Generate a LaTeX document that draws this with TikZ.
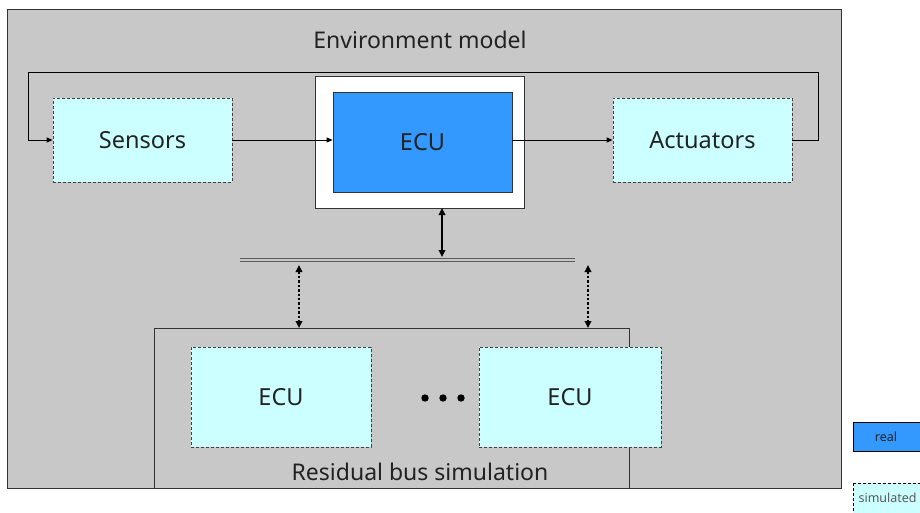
\documentclass[tikz,border=0pt]{standalone}
\usepackage{fontspec}
\setmainfont{Noto Sans}
\usetikzlibrary{arrows.meta}
\definecolor{envgray}{HTML}{C8C8C8}
\definecolor{realblue}{HTML}{3399FF}
\definecolor{simcyan}{HTML}{CCFFFF}
\definecolor{txt}{HTML}{222222}
\begin{document}
\begin{tikzpicture}[x=1pt,y=-1pt,
  simbox/.style={draw=black!75, dashed, dash pattern=on 3pt off 2pt, fill=simcyan, line width=0.8pt, text=txt, font=\fontsize{23.5}{26}\selectfont},
  realbox/.style={draw=black!80, fill=realblue, line width=0.8pt, text=txt, font=\fontsize{23.5}{26}\selectfont},
  conn/.style={line width=0.8pt, -{Triangle[length=6pt,width=5pt]}},
  buslinestyle/.style={draw=black!65, line width=1.1pt},
  dotarrow/.style={line width=2.2pt, dash pattern=on 2.4pt off 2pt, {Triangle[length=7pt,width=6.5pt]}-{Triangle[length=7pt,width=6.5pt]}},
  boxrect/.style={draw=black!80, line width=0.9pt}]
\useasboundingbox (0,0) rectangle (920,513);
\clip (0,0) rectangle (920,513);
\fill[white] (0,0) rectangle (920,513);
% outer environment
\draw[boxrect, fill=envgray] (7,9) rectangle (841,488);
\node[text=txt, font=\fontsize{23}{26}\selectfont] (envt) at (420,40) {Environment model};
% ECU real
\draw[boxrect, fill=white] (315,76) rectangle (524,208);
\node[realbox, minimum width=179pt, minimum height=100pt, inner sep=0pt] (ecu) at (422.5,142) {ECU};
% Sensors / Actuators
\node[simbox, minimum width=179pt, minimum height=84pt, inner sep=0pt] (sens) at (142.5,140) {Sensors};
\node[simbox, minimum width=179pt, minimum height=84pt, inner sep=0pt] (act) at (702.5,140) {Actuators};
\coordinate (lr) at (818,72);
\coordinate (ll) at (28,72);
\draw[conn] (sens.east) -- (ecu.west |- sens.east);
\draw[conn] (ecu.east |- act.west) -- (act.west);
\draw[conn] (act.east) -| (lr) -- (ll) |- (sens.west);
% bus
\coordinate (busl) at (240,260);
\coordinate (busr) at (575,260);
\draw[buslinestyle] ([yshift=-1.6pt]busl) -- ([yshift=-1.6pt]busr);
\draw[buslinestyle] ([yshift=1.6pt]busl) -- ([yshift=1.6pt]busr);
\coordinate (busA) at (442,257);
\coordinate (ecuB) at (442,208);
\draw[line width=1.9pt, {Triangle[length=7pt,width=6.5pt]}-{Triangle[length=7pt,width=6.5pt]}] (ecuB) -- (busA);
% residual bus simulation
\draw[boxrect, fill=envgray] (154,328) rectangle (629,488);
\node[text=txt, font=\fontsize{23}{26}\selectfont] (rbs) at (420,472) {Residual bus simulation};
\node[simbox, minimum width=180pt, minimum height=100pt, inner sep=0pt] (e1) at (281,397) {ECU};
\node[simbox, minimum width=182pt, minimum height=100pt, inner sep=0pt] (e2) at (570,397) {ECU};
\foreach \xx in {425,443,461} \fill[black] (\xx,398) circle (3.7pt);
\coordinate (d1t) at (299,265);
\coordinate (d1b) at (299,328);
\coordinate (d2t) at (588,265);
\coordinate (d2b) at (588,328);
\draw[dotarrow] (d1t) -- (d1b);
\draw[dotarrow] (d2t) -- (d2b);
% legend
\draw[draw=black, line width=0.8pt, fill=realblue] (853,422) rectangle (935,451);
\node[text=txt, font=\fontsize{12.5}{14}\selectfont] (lreal) at (886,437) {real};
\draw[draw=black, line width=0.8pt, dashed, dash pattern=on 3pt off 2pt, fill=simcyan] (853,483) rectangle (935,520);
\node[text=black!65, font=\fontsize{12.5}{14}\selectfont, anchor=west] (lsim) at (855,498) {simulated};
\end{tikzpicture}
\end{document}
